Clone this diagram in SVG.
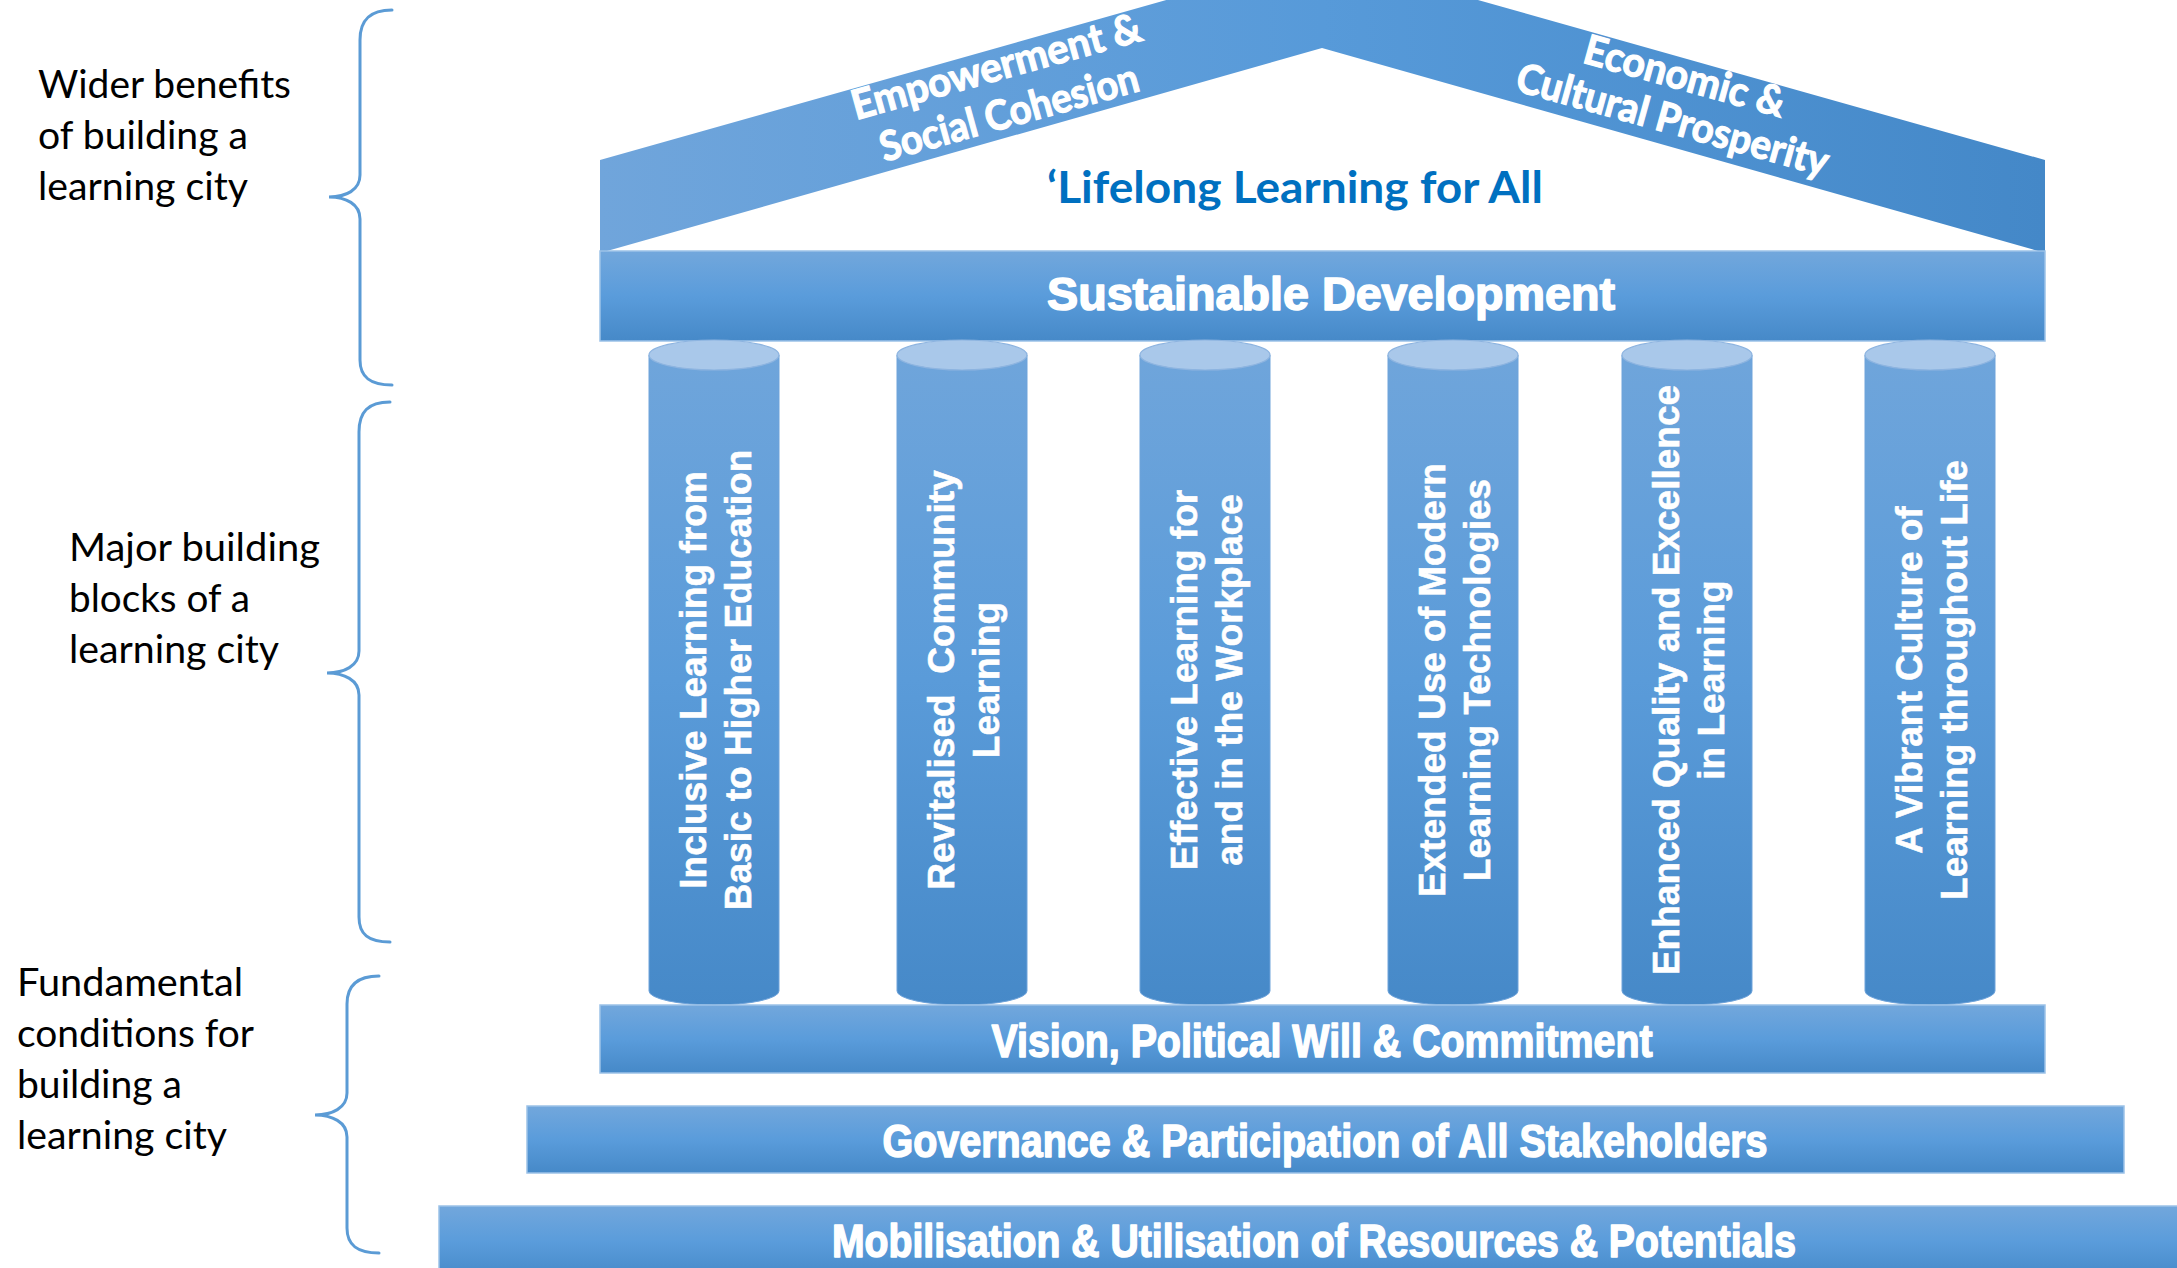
<svg xmlns="http://www.w3.org/2000/svg" width="2177" height="1268" viewBox="0 0 2177 1268">
  <style>
    .bar { fill: url(#barGrad); stroke: #9CC2E8; stroke-width: 1.5; }
    .col { fill: url(#colGrad); stroke: #6FA3DA; stroke-width: 1; }
    .cap { fill: #A9C8EA; stroke: #8DB4E0; stroke-width: 1.2; }
    .brace { fill: none; stroke: #5B9BD5; stroke-width: 3; stroke-linecap: round; }
    .label { font-family: Lato, "Open Sans", "Liberation Sans", sans-serif; font-size: 38px; fill: #000; }
    .roofTxt { font-family: Lato, "Open Sans", "Liberation Sans", sans-serif; font-weight: 700; font-size: 41px; fill: #fff; stroke: #fff; stroke-width: 1.2; text-anchor: middle; }
    .barTxt { font-family: "Liberation Sans", Arial, sans-serif; font-weight: 700; font-size: 47px; fill: #fff; stroke: #fff; stroke-width: 1.6; stroke-linejoin: round; text-anchor: middle; }
    .colTxt { font-family: "Liberation Sans", Arial, sans-serif; font-weight: 700; font-size: 37px; fill: #fff; stroke: #fff; stroke-width: 0.6; text-anchor: middle; }
    .motto { font-family: Lato, "Open Sans", "Liberation Sans", sans-serif; font-weight: 700; font-size: 44px; fill: #0070C0; }
  </style>
  <defs>
    <linearGradient id="barGrad" x1="0" y1="0" x2="0" y2="1">
      <stop offset="0" stop-color="#72A7DC"/>
      <stop offset="0.5" stop-color="#5A9CDB"/>
      <stop offset="1" stop-color="#4689C8"/>
    </linearGradient>
    <linearGradient id="colGrad" x1="0" y1="0" x2="0" y2="1">
      <stop offset="0" stop-color="#6FA5DB"/>
      <stop offset="0.5" stop-color="#5A9BD9"/>
      <stop offset="1" stop-color="#4689C8"/>
    </linearGradient>
    <linearGradient id="roofGrad" gradientUnits="userSpaceOnUse" x1="600" y1="0" x2="2045" y2="0">
      <stop offset="0" stop-color="#70A5DB"/>
      <stop offset="0.5" stop-color="#579AD9"/>
      <stop offset="1" stop-color="#4488C8"/>
    </linearGradient>
  </defs>

  <rect width="2177" height="1268" fill="#fff"/>

  <!-- side labels -->
  <g id="label-wider">
    <text class="label" x="38" y="98" textLength="253" lengthAdjust="spacingAndGlyphs">Wider benefits</text>
    <text class="label" x="38" y="149" textLength="210" lengthAdjust="spacingAndGlyphs">of building a</text>
    <text class="label" x="38" y="200" textLength="210" lengthAdjust="spacingAndGlyphs">learning city</text>
  </g>
  <g id="label-major">
    <text class="label" x="69" y="561" textLength="251" lengthAdjust="spacingAndGlyphs">Major building</text>
    <text class="label" x="69" y="612" textLength="181" lengthAdjust="spacingAndGlyphs">blocks of a</text>
    <text class="label" x="69" y="663" textLength="210" lengthAdjust="spacingAndGlyphs">learning city</text>
  </g>
  <g id="label-fundamental">
    <text class="label" x="17" y="996" textLength="226" lengthAdjust="spacingAndGlyphs">Fundamental</text>
    <text class="label" x="17" y="1047" textLength="237" lengthAdjust="spacingAndGlyphs">conditions for</text>
    <text class="label" x="17" y="1098" textLength="165" lengthAdjust="spacingAndGlyphs">building a</text>
    <text class="label" x="17" y="1149" textLength="210" lengthAdjust="spacingAndGlyphs">learning city</text>
  </g>

  <!-- curly braces grouping the tiers -->
  <g id="braces">
    <path class="brace" d="M392,10 C370,10 360,20 360,40 L360,175 C360,190 346,197 329,197 C346,197 360,204 360,219 L360,360 C360,377 370,385 392,385"/>
    <path class="brace" d="M390,402 C368,402 359,412 359,432 L359,651 C359,666 344,673 327,673 C344,673 359,680 359,695 L359,917 C359,934 368,942 390,942"/>
    <path class="brace" d="M379,976 C357,976 347,986 347,1004 L347,1093 C347,1108 332,1115 315,1115 C332,1115 347,1122 347,1137 L347,1228 C347,1245 357,1253 379,1253"/>
  </g>

  <!-- roof -->
  <g id="roof">
    <path d="M600,160 L1322,-44 L2045,160 L2045,251 L2038,251 L1322,48 L607,251 L600,251 Z" fill="url(#roofGrad)"/>
    <g transform="translate(1000,80) rotate(-15.5)">
      <text class="roofTxt" x="0" y="0" textLength="299" lengthAdjust="spacingAndGlyphs">Empowerment &amp;</text>
      <text class="roofTxt" x="0" y="48" textLength="267" lengthAdjust="spacingAndGlyphs">Social Cohesion</text>
    </g>
    <g transform="translate(1681,90) rotate(15.5)">
      <text class="roofTxt" x="0" y="0" textLength="207" lengthAdjust="spacingAndGlyphs">Economic &amp;</text>
      <text class="roofTxt" x="0" y="45" textLength="322" lengthAdjust="spacingAndGlyphs">Cultural Prosperity</text>
    </g>
  </g>

  <g id="motto">
    <text class="motto" x="1047" y="203" textLength="496" lengthAdjust="spacingAndGlyphs">‘Lifelong Learning for All</text>
  </g>

  <!-- entablature -->
  <g id="sustainable-development">
    <rect class="bar" x="600" y="251" width="1445" height="90"/>
    <text class="barTxt" x="1331" y="310" textLength="568" lengthAdjust="spacingAndGlyphs">Sustainable Development</text>
  </g>

  <!-- pillars -->
  <g id="pillar-1">
    <path class="col" d="M649,355 L649,991 A65,14 0 0 0 779,991 L779,355 Z"/>
    <ellipse class="cap" cx="714" cy="355" rx="65" ry="15"/>
    <g transform="translate(714,680) rotate(-90)">
      <text class="colTxt" x="0" y="-8">Inclusive Learning from</text>
      <text class="colTxt" x="0" y="37">Basic to Higher Education</text>
    </g>
  </g>
  <g id="pillar-2">
    <path class="col" d="M897,355 L897,991 A65,14 0 0 0 1027,991 L1027,355 Z"/>
    <ellipse class="cap" cx="962" cy="355" rx="65" ry="15"/>
    <g transform="translate(962,680) rotate(-90)">
      <text class="colTxt" x="0" y="-8" xml:space="preserve">Revitalised  Community</text>
      <text class="colTxt" x="0" y="37">Learning</text>
    </g>
  </g>
  <g id="pillar-3">
    <path class="col" d="M1140,355 L1140,991 A65,14 0 0 0 1270,991 L1270,355 Z"/>
    <ellipse class="cap" cx="1205" cy="355" rx="65" ry="15"/>
    <g transform="translate(1205,680) rotate(-90)">
      <text class="colTxt" x="0" y="-8">Effective Learning for</text>
      <text class="colTxt" x="0" y="37">and in the Workplace</text>
    </g>
  </g>
  <g id="pillar-4">
    <path class="col" d="M1388,355 L1388,991 A65,14 0 0 0 1518,991 L1518,355 Z"/>
    <ellipse class="cap" cx="1453" cy="355" rx="65" ry="15"/>
    <g transform="translate(1453,680) rotate(-90)">
      <text class="colTxt" x="0" y="-8">Extended Use of Modern</text>
      <text class="colTxt" x="0" y="37">Learning Technologies</text>
    </g>
  </g>
  <g id="pillar-5">
    <path class="col" d="M1622,355 L1622,991 A65,14 0 0 0 1752,991 L1752,355 Z"/>
    <ellipse class="cap" cx="1687" cy="355" rx="65" ry="15"/>
    <g transform="translate(1687,680) rotate(-90)">
      <text class="colTxt" x="0" y="-8">Enhanced Quality and Excellence</text>
      <text class="colTxt" x="0" y="37">in Learning</text>
    </g>
  </g>
  <g id="pillar-6">
    <path class="col" d="M1865,355 L1865,991 A65,14 0 0 0 1995,991 L1995,355 Z"/>
    <ellipse class="cap" cx="1930" cy="355" rx="65" ry="15"/>
    <g transform="translate(1930,680) rotate(-90)">
      <text class="colTxt" x="0" y="-8">A Vibrant Culture of</text>
      <text class="colTxt" x="0" y="37">Learning throughout Life</text>
    </g>
  </g>

  <!-- foundation steps -->
  <g id="vision">
    <rect class="bar" x="600" y="1005" width="1445" height="68"/>
    <text class="barTxt" x="1322" y="1057" textLength="661" lengthAdjust="spacingAndGlyphs">Vision, Political Will &amp; Commitment</text>
  </g>
  <g id="governance">
    <rect class="bar" x="527" y="1106" width="1597" height="67"/>
    <text class="barTxt" x="1325" y="1157" textLength="885" lengthAdjust="spacingAndGlyphs">Governance &amp; Participation of All Stakeholders</text>
  </g>
  <g id="mobilisation">
    <rect class="bar" x="439" y="1206" width="1760" height="72"/>
    <text class="barTxt" x="1314" y="1257" textLength="964" lengthAdjust="spacingAndGlyphs">Mobilisation &amp; Utilisation of Resources &amp; Potentials</text>
  </g>
</svg>
